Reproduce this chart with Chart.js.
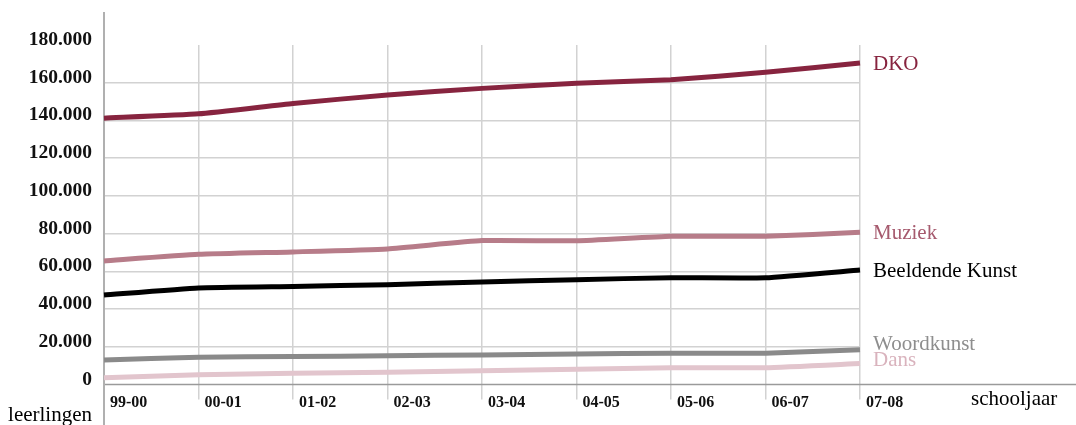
<!DOCTYPE html>
<html><head><meta charset="utf-8">
<script src="https://cdn.jsdelivr.net/npm/chart.js@4"></script>
<style>html,body{margin:0;padding:0;background:#fff;} #wrap{position:relative;width:1076px;height:425px;}</style>
</head><body><div id="wrap"><canvas id="c" width="1076" height="425"></canvas></div>
<script>
const categories = ['99-00','00-01','01-02','02-03','03-04','04-05','05-06','06-07','07-08'];
const seriesNames = ['DKO','Muziek','Beeldende Kunst','Woordkunst','Dans'];
const dko = [141200,143500,149000,153500,157000,159700,161600,165500,170500];
const muziek = [65500,69000,70300,71900,76300,76200,78600,78600,80700];
const beeldendeKunst = [47400,51200,52000,52900,54400,55600,56600,56600,60700];
const woordkunst = [13000,14500,14800,15200,15700,16200,16600,16600,18400];
const dans = [3600,5200,6000,6500,7300,8100,8900,8900,11100];
const yMin = 0, yMax = 180000, yStep = 20000;
const xAxisTitle = 'schooljaar';
const yAxisTitle = 'leerlingen';

const lineColors = ['#87243f','#b77c89','#000000','#8a8a8a','#e2c5cd'];
const labelColors = ['#87243f','#a65a6e','#000000','#8e8e8e','#d9b3bd'];
const labelNudge = [1.5,1.5,1.5,-5.5,-3.5];
const serif = "'Liberation Serif', 'Times New Roman', serif";

function fmt(v){ return String(v).replace(/\B(?=(\d{3})+(?!\d))/g,'.'); }

const decor = {
  id:'decor',
  beforeDatasetsDraw(chart){
    const {ctx, chartArea:a} = chart;
    ctx.save();
    ctx.strokeStyle='#9a9a9a'; ctx.lineWidth=1.5;
    ctx.beginPath(); ctx.moveTo(a.left, a.bottom); ctx.lineTo(chart.width, a.bottom); ctx.stroke();
    ctx.strokeStyle='#b0b0b0'; ctx.lineWidth=2;
    ctx.beginPath(); ctx.moveTo(a.left, 12); ctx.lineTo(a.left, chart.height); ctx.stroke();
    ctx.restore();
  },
  afterDatasetsDraw(chart){
    const {ctx, chartArea:a} = chart;
    ctx.save();
    ctx.font = "21px " + serif;
    ctx.textBaseline = 'middle';
    ctx.textAlign = 'left';
    chart.data.datasets.forEach((ds,i)=>{
      const pts = chart.getDatasetMeta(i).data;
      const p = pts[pts.length-1];
      ctx.fillStyle = labelColors[i];
      ctx.fillText(ds.label, a.right + 13, p.y + labelNudge[i]);
    });
    ctx.fillStyle = '#000';
    ctx.textBaseline = 'alphabetic';
    ctx.fillText(xAxisTitle, 971, 405);
    ctx.textAlign = 'right';
    ctx.fillText(yAxisTitle, 92, 420.5);
    ctx.restore();
  }
};

const seriesData = [dko, muziek, beeldendeKunst, woordkunst, dans];
new Chart(document.getElementById('c'), {
  type:'line',
  data:{
    labels: categories,
    datasets: seriesData.map((d,i)=>({
      label: seriesNames[i], data: d, borderColor: lineColors[i], backgroundColor: lineColors[i],
      borderWidth: 5, pointRadius: 0, pointHoverRadius: 0, tension: 0.15, fill: false
    }))
  },
  options:{
    responsive:false, animation:false, devicePixelRatio:1,
    layout:{ padding:{ top:45, right:216, left:0, bottom:0 } },
    plugins:{ legend:{display:false}, tooltip:{enabled:false} },
    scales:{
      x:{
        type:'category', offset:false,
        afterFit(s){ s.height = 40.5; },
        border:{ display:false },
        grid:{ color:'#d2d2d2', lineWidth:1.5, tickLength:15, offset:false },
        ticks:{ align:'start', labelOffset:6, padding:-6, color:'#111', autoSkip:false, maxRotation:0,
          font:{ family: serif, size:16, weight:'bold' } }
      },
      y:{
        min:yMin, max:yMax,
        afterFit(s){ s.width = 104; },
        border:{ display:false },
        grid:{ drawTicks:false, lineWidth:1.5,
          color:(c)=> (c.tick && (c.tick.value===yMax || c.tick.value===yMin)) ? 'rgba(0,0,0,0)' : '#d2d2d2' },
        ticks:{ stepSize:yStep, padding:12, labelOffset:-5, color:'#111',
          font:{ family: serif, size:19.5, weight:'bold' },
          callback:(v)=>fmt(v) }
      }
    }
  },
  plugins:[decor]
});
</script></body></html>
